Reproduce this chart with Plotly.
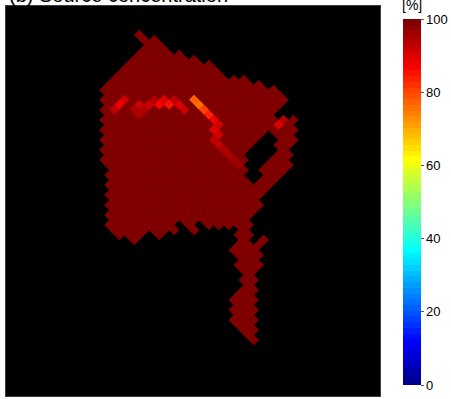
import plotly.graph_objects as go

# Cells live on a diamond lattice: row r is drawn at y = r, column c at x = c,
# and only (r, c) with r + c even exist, so each cell touches its diagonal neighbours.
# Filled column spans per row (value 100 %).
ROW_SPANS = {
    1: [(7, 7)], 2: [(8, 8), (10, 10)], 3: [(9, 11)], 4: [(8, 12)],
    5: [(7, 15)], 6: [(6, 18)], 7: [(5, 21)], 8: [(4, 22)], 9: [(3, 23)],
    10: [(2, 28)], 11: [(1, 31)], 12: [(0, 34)], 13: [(1, 35)], 14: [(0, 36)],
    15: [(1, 35)], 16: [(0, 34)], 17: [(1, 33)], 18: [(0, 38)], 19: [(1, 37)],
    20: [(0, 38)], 21: [(1, 37)], 22: [(0, 38)], 23: [(1, 37)], 24: [(0, 36)],
    25: [(1, 37)], 26: [(0, 36)], 27: [(1, 37)], 28: [(2, 36)], 29: [(1, 35)],
    30: [(2, 34)], 31: [(1, 33)], 32: [(2, 32)], 33: [(1, 31)], 34: [(2, 30)],
    35: [(1, 31)], 36: [(2, 30)], 37: [(1, 29)], 38: [(2, 28)],
    39: [(1, 13), (17, 17), (21, 29)],
    40: [(2, 14), (18, 18), (28, 28)],
    41: [(3, 7), (11, 11), (27, 29)],
    42: [(6, 6), (28, 28), (32, 32)],
    43: [(27, 31)], 44: [(26, 30)], 45: [(27, 31)], 46: [(28, 30)],
    47: [(27, 31)], 48: [(28, 30)], 49: [(29, 29)], 50: [(28, 30)],
    51: [(29, 29)], 52: [(28, 30)], 53: [(27, 29)], 54: [(26, 30)],
    55: [(27, 29)], 56: [(26, 30)], 57: [(27, 29)], 58: [(26, 30)],
    59: [(27, 29)], 60: [(28, 30)], 61: [(29, 29)], 62: [(30, 30)],
}

# Empty cells inside the plume
HOLE_CELLS = {
    21: [33], 22: [32, 34], 23: [31, 33], 24: [30, 32, 34],
    25: [29, 31, 33], 26: [30, 32], 27: [29, 31], 28: [30],
    29: [29, 31], 30: [30],
}

# Cells below full concentration (row, column, percent)
STREAK_ROWS = [14, 15, 16, 15, 16, 17, 16, 15, 14, 15, 14, 15, 14, 15, 16,
               14, 15, 16, 17, 18, 19, 20, 21, 22, 23, 24, 25, 26, 27, 19, 18]
STREAK_COLS = [4, 3, 2, 7, 6, 7, 8, 9, 10, 11, 12, 13, 14, 15, 16,
               18, 19, 20, 21, 22, 23, 22, 23, 22, 23, 24, 25, 26, 27, 35, 36]
STREAK_VALUES = [91, 89, 93, 92, 95, 95, 94, 92, 94, 87, 90, 85, 93, 90, 92,
                 77, 76, 80, 84, 89, 91, 90, 92, 93, 93, 94, 95, 96, 96, 90, 94]

FULL_VALUE = 100
CBAR_TICKS = [0, 20, 40, 60, 80, 100]


def jet(m=64):
    """MATLAB-style jet colormap with m entries."""
    n = -(-m // 4)
    u = [i / n for i in range(1, n + 1)] + [1.0] * (n - 1) + [i / n for i in range(n, 0, -1)]
    off = -(-n // 2) - (1 if m % 4 == 1 else 0)
    g = [off + i for i in range(1, len(u) + 1)]
    r = [x + n for x in g]
    b = [x - n for x in g]
    g = [x for x in g if x <= m]
    r = [x for x in r if x <= m]
    b = [x for x in b if x >= 1]
    J = [[0.0, 0.0, 0.0] for _ in range(m)]
    for k, idx in enumerate(r):
        J[idx - 1][0] = u[k]
    for k, idx in enumerate(g):
        J[idx - 1][1] = u[k]
    for k, idx in enumerate(b):
        J[idx - 1][2] = u[len(u) - len(b) + k]
    return J


cmap = jet(64)
colorscale = []
for k, (rr, gg, bb) in enumerate(cmap):
    col = f"rgb({round(rr * 255)},{round(gg * 255)},{round(bb * 255)})"
    colorscale.append([k / 64, col])
    colorscale.append([(k + 1) / 64, col])

cells = {}
for r, spans in ROW_SPANS.items():
    for c0, c1 in spans:
        for c in range(c0, c1 + 1):
            if (c + r) % 2 == 0 and c not in HOLE_CELLS.get(r, []):
                cells[(r, c)] = FULL_VALUE
for r, c, v in zip(STREAK_ROWS, STREAK_COLS, STREAK_VALUES):
    cells[(r, c)] = v

xs = [c for (r, c) in cells]
ys = [r for (r, c) in cells]
vals = list(cells.values())

fig = go.Figure()
fig.add_trace(go.Scatter(
    x=xs, y=ys, mode="markers",
    marker=dict(
        symbol="diamond", size=8.2, line=dict(width=0),
        color=vals, colorscale=colorscale, cmin=0, cmax=100,
        showscale=True,
        colorbar=dict(
            x=1.0612, xanchor="left", xpad=0,
            y=0.4974, yanchor="middle", ypad=0,
            len=366, lenmode="pixels", thickness=18,
            outlinewidth=0, borderwidth=0,
            tickvals=CBAR_TICKS, ticks="outside", ticklen=3,
            tickwidth=1, tickcolor="#555",
            tickfont=dict(family="Liberation Sans, Arial", size=13, color="black"),
        ),
    ),
    hoverinfo="skip",
))

fig.update_layout(
    width=451, height=399,
    margin=dict(l=6, r=69, t=6, b=3),
    plot_bgcolor="black", paper_bgcolor="white",
    showlegend=False,
    xaxis=dict(range=[-19.8, 55.4], showgrid=False, zeroline=False,
               showticklabels=False, ticks="", showline=True, mirror=True,
               linecolor="#3c3c3c", linewidth=1),
    yaxis=dict(range=[73.2, -4.8], showgrid=False, zeroline=False,
               showticklabels=False, ticks="", showline=True, mirror=True,
               linecolor="#3c3c3c", linewidth=1),
    annotations=[
        dict(text="(b) Source concentration", xref="paper", yref="paper",
             x=0.002, y=0.995, xanchor="left", yanchor="bottom", showarrow=False,
             font=dict(family="Liberation Sans, Arial", size=20, color="black")),
        dict(text="[%]", xref="paper", yref="paper",
             x=1.085, y=0.976, xanchor="center", yanchor="bottom", showarrow=False,
             font=dict(family="Liberation Sans, Arial", size=14, color="black")),
    ],
)

fig.write_html("out.html")
